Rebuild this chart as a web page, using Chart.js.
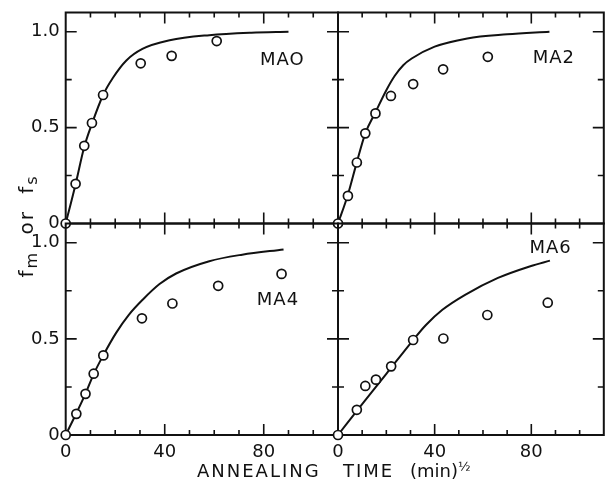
<!DOCTYPE html>
<html>
<head>
<meta charset="utf-8">
<script src="https://cdn.jsdelivr.net/npm/chart.js@4.4.0/dist/chart.umd.min.js"></script>
<style>
  html, body { margin: 0; padding: 0; background: #fff; overflow: hidden; width: 606px; height: 480px; }
  #fig { position: relative; width: 610px; height: 480px; }
  #fig canvas { position: absolute; left: 0; top: 0; }
  .t { position: absolute; font-family: 'DejaVu Sans'; font-size: 18px; line-height: 18px; color: #111; white-space: nowrap; }
  #ytitle { left: -74px; top: 214px; width: 200px; height: 24px; line-height: 24px; font-size: 20px;
            text-align: center; transform: rotate(-90deg); letter-spacing: 2px; word-spacing: 8px; }
  #ytitle sub { font-size: 16px; vertical-align: -4px; line-height: 0; }
  .half { font-size: 13px; vertical-align: 6px; line-height: 0; }
</style>
</head>
<body>
<div id="fig">
  <canvas id="c0" width="610" height="480"></canvas>
  <canvas id="c1" width="610" height="480"></canvas>
  <canvas id="c2" width="610" height="480"></canvas>
  <canvas id="c3" width="610" height="480"></canvas>
  <div class="t" id="ytitle">f<sub>m</sub> or f<sub>s</sub></div>
  <div class="t" style="left:197px; top:462px; letter-spacing:2px;">ANNEALING</div>
  <div class="t" style="left:343px; top:462px; letter-spacing:2px;">TIME</div>
  <div class="t" style="left:410px; top:462px;">(min)<span class="half">½</span></div>
</div>
<script>
// Tick labels and tick-mark positions shared by the four panels
const xTickLabels = [0, 40, 80];
const yTickLabels = [0, 0.5, 1.0];
const xTickMarks = [10, 20, 30, 40, 50, 60, 70, 80, 90, 100];
const yTickMarks = [0.25, 0.5, 0.75, 1.0];

// MA0: measured fractions vs sqrt(annealing time), and the calculated curve
const ma0X = [0, 4, 7.5, 10.6, 15.1, 30.3, 42.8, 61];
const ma0Y = [0, 0.207, 0.405, 0.524, 0.67, 0.835, 0.874, 0.951];
const ma0FitX = [0, 4, 7.5, 10.6, 15.1, 19.1, 24.5, 31, 42, 58, 75, 90];
const ma0FitY = [0, 0.205, 0.4, 0.52, 0.67, 0.76, 0.85, 0.91, 0.955, 0.982, 0.995, 1.0];

// MA2
const ma2X = [0, 4.1, 7.8, 11.3, 15.5, 21.9, 31.1, 43.5, 62];
const ma2Y = [0, 0.144, 0.318, 0.47, 0.574, 0.665, 0.727, 0.804, 0.869];
const ma2FitX = [0, 4.1, 7.8, 11.3, 15.5, 20, 23.5, 27, 30.5, 40, 53.5, 70, 87.5];
const ma2FitY = [0, 0.15, 0.32, 0.47, 0.58, 0.695, 0.77, 0.825, 0.86, 0.922, 0.965, 0.986, 1.0];

// MA4
const ma4X = [0, 4.3, 8, 11.3, 15.2, 30.8, 43.1, 61.6, 87.2];
const ma4Y = [0, 0.11, 0.214, 0.319, 0.414, 0.607, 0.684, 0.776, 0.838];
const ma4FitX = [0, 4.3, 8, 11.3, 15.2, 20.3, 25.5, 31.2, 37.9, 44.6, 58, 71.3, 88];
const ma4FitY = [0, 0.113, 0.215, 0.317, 0.415, 0.53, 0.625, 0.705, 0.785, 0.84, 0.904, 0.938, 0.965];

// MA6
const ma6X = [0, 7.8, 11.3, 15.7, 22, 31.1, 43.6, 61.8, 86.8];
const ma6Y = [0, 0.131, 0.255, 0.288, 0.357, 0.494, 0.502, 0.624, 0.688];
const ma6FitX = [0, 10, 20, 31.1, 36.4, 43.2, 52.6, 66.2, 79.6, 87.7];
const ma6FitY = [0, 0.16, 0.318, 0.494, 0.572, 0.651, 0.729, 0.817, 0.878, 0.907];

const INK = '#111';
const W = 610, H = 480;
const tickFont = { family: 'DejaVu Sans', size: 18 };

const zip = (xs, ys) => xs.map((x, i) => ({ x, y: ys[i] }));

// Panel frame with inward tick marks on all four sides, plus the sample name
const framePlugin = {
  id: 'frame',
  beforeDatasetsDraw(chart, args, opts) {
    const { ctx, chartArea: a, scales: { x, y } } = chart;
    ctx.save();
    ctx.strokeStyle = INK;
    ctx.lineWidth = 2;
    ctx.strokeRect(a.left, a.top, a.right - a.left, a.bottom - a.top);
    ctx.lineWidth = 1.6;
    ctx.beginPath();
    xTickMarks.forEach(v => {
      const px = x.getPixelForValue(v);
      const len = v % 40 === 0 ? 11 : 5;
      ctx.moveTo(px, a.bottom); ctx.lineTo(px, a.bottom - len);
      ctx.moveTo(px, a.top); ctx.lineTo(px, a.top + len);
    });
    yTickMarks.forEach(v => {
      const py = y.getPixelForValue(v);
      const len = Math.abs(v * 2 - Math.round(v * 2)) < 1e-9 ? 11 : 6;
      ctx.moveTo(a.left, py); ctx.lineTo(a.left + len, py);
      ctx.moveTo(a.right, py); ctx.lineTo(a.right - len, py);
    });
    ctx.stroke();
    if (opts.label) {
      ctx.fillStyle = INK;
      ctx.font = '18px "DejaVu Sans"';
      ctx.letterSpacing = '1px';
      ctx.textBaseline = 'alphabetic';
      ctx.textAlign = 'left';
      ctx.fillText(opts.label, x.getPixelForValue(opts.at[0]), y.getPixelForValue(opts.at[1]));
    }
    ctx.restore();
  }
};

const panels = [
  { id: 'c0', label: 'MAO', at: [78.5, 0.826], px: ma0X, py: ma0Y, fx: ma0FitX, fy: ma0FitY,
    area: { left: 65.7, top: 12.5, right: 338, bottom: 223.5 }, showX: false, showY: true },
  { id: 'c1', label: 'MA2', at: [80.6, 0.835], px: ma2X, py: ma2Y, fx: ma2FitX, fy: ma2FitY,
    area: { left: 338, top: 12.5, right: 607, bottom: 223.5 }, showX: false, showY: false },
  { id: 'c2', label: 'MA4', at: [77.2, 0.678], px: ma4X, py: ma4Y, fx: ma4FitX, fy: ma4FitY,
    area: { left: 65.7, top: 223.5, right: 338, bottom: 435 }, showX: true, showY: true },
  { id: 'c3', label: 'MA6', at: [79.2, 0.944], px: ma6X, py: ma6Y, fx: ma6FitX, fy: ma6FitY,
    area: { left: 338, top: 223.5, right: 607, bottom: 435 }, showX: true, showY: false }
];

const zeroPad = s => { s.paddingTop = 0; s.paddingBottom = 0; s.paddingLeft = 0; s.paddingRight = 0; };

panels.forEach(p => {
  new Chart(document.getElementById(p.id), {
    type: 'scatter',
    data: {
      datasets: [
        {
          type: 'scatter',
          data: zip(p.px, p.py),
          pointRadius: 4.5,
          pointBorderWidth: 1.7,
          pointBackgroundColor: '#fff',
          pointBorderColor: INK,
          order: 0,
          clip: false
        },
        {
          type: 'line',
          data: zip(p.fx, p.fy),
          borderColor: INK,
          borderWidth: 2,
          pointRadius: 0,
          fill: false,
          cubicInterpolationMode: 'monotone',
          order: 1,
          clip: false
        }
      ]
    },
    options: {
      responsive: false,
      animation: false,
      events: [],
      // the axis boxes fill the margins, so the plot area lands on the panel rectangle
      layout: {
        padding: { left: 0, top: p.area.top, right: W - p.area.right, bottom: 0 }
      },
      plugins: {
        legend: { display: false },
        tooltip: { enabled: false },
        frame: { label: p.label, at: p.at }
      },
      scales: {
        x: {
          type: 'linear', min: 0, max: 110,
          afterBuildTicks: s => { s.ticks = xTickLabels.map(v => ({ value: v })); },
          afterFit: s => { s.height = H - p.area.bottom; zeroPad(s); },
          grid: { display: false, drawTicks: false },
          border: { display: false },
          ticks: { display: p.showX, padding: 7, maxRotation: 0, autoSkip: false, font: tickFont, color: INK }
        },
        y: {
          type: 'linear', min: 0, max: 1.1,
          afterBuildTicks: s => { s.ticks = yTickLabels.map(v => ({ value: v })); },
          afterFit: s => { s.width = p.area.left; zeroPad(s); },
          grid: { display: false, drawTicks: false },
          border: { display: false },
          ticks: {
            display: p.showY, padding: 6, autoSkip: false, font: tickFont, color: INK,
            callback: v => (v === 0 ? '0' : v.toFixed(1))
          }
        }
      }
    },
    plugins: [framePlugin]
  });
});
</script>
</body>
</html>
